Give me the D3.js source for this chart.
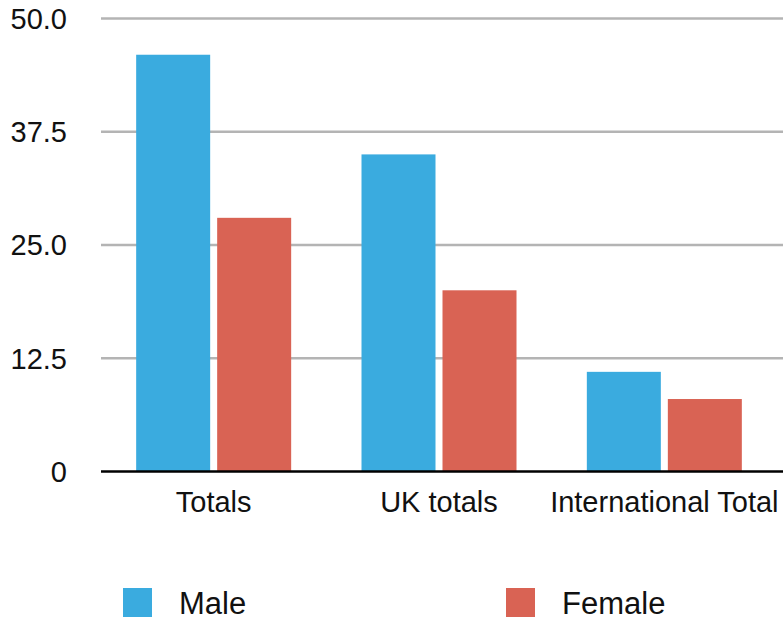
<!DOCTYPE html>
<html>
<head>
<script src="https://d3js.org/d3.v7.min.js"></script>
<style>
  body { margin: 0; background: #fff; }
  svg { font-family: "Liberation Sans", Arial, sans-serif; }
</style>
</head>
<body>
<svg id="chart" width="783" height="620"></svg>
<script>
const categories = ["Totals", "UK totals", "International Total"];
const seriesNames = ["Male", "Female"];
const male = [46, 35, 11];
const female = [28, 20, 8];
const tickValues = [0, 12.5, 25, 37.5, 50];
const tickLabels = ["0", "12.5", "25.0", "37.5", "50.0"];

const colors = { Male: "#3aabdf", Female: "#d96354" };
const values = { Male: male, Female: female };

const svg = d3.select("#chart");
const plotLeft = 101, plotRight = 777, plotTop = 18.5, plotBottom = 471.5;

const x = d3.scaleBand().domain(categories).range([plotLeft, plotRight]);
const y = d3.scaleLinear().domain([0, 50]).range([plotBottom, plotTop]);

// gridlines
svg.append("g").selectAll("line")
  .data(tickValues.filter(d => d > 0))
  .enter().append("line")
  .attr("x1", 101).attr("x2", 783)
  .attr("y1", d => y(d)).attr("y2", d => y(d))
  .attr("stroke", "#b4b4b4").attr("stroke-width", 2.5);

// tick labels
svg.append("g").selectAll("text")
  .data(tickValues)
  .enter().append("text")
  .attr("x", 67).attr("y", d => y(d))
  .attr("dy", "0.36em")
  .attr("text-anchor", "end")
  .attr("font-size", 29)
  .attr("fill", "#111")
  .text((d, i) => tickLabels[i]);

// bars
const barW = 74, gap = 7;
const groups = svg.append("g").selectAll("g")
  .data(categories)
  .enter().append("g");

seriesNames.forEach((s, si) => {
  groups.append("rect")
    .attr("x", (d) => x(d) + x.bandwidth() / 2 + (si === 0 ? -barW - gap / 2 : gap / 2))
    .attr("y", (d, i) => y(values[s][i]))
    .attr("width", barW)
    .attr("height", (d, i) => plotBottom - y(values[s][i]))
    .attr("fill", colors[s]);
});

// baseline
svg.append("line")
  .attr("x1", 101).attr("x2", 783)
  .attr("y1", plotBottom).attr("y2", plotBottom)
  .attr("stroke", "#000").attr("stroke-width", 2.5);

// category labels
svg.append("g").selectAll("text")
  .data(categories)
  .enter().append("text")
  .attr("x", d => x(d) + x.bandwidth() / 2)
  .attr("y", 512)
  .attr("text-anchor", "middle")
  .attr("font-size", 29)
  .attr("fill", "#111")
  .text(d => d);

// legend
const legendX = [123, 506];
const legend = svg.append("g").selectAll("g")
  .data(seriesNames)
  .enter().append("g")
  .attr("transform", (d, i) => `translate(${legendX[i]},588)`);
legend.append("rect")
  .attr("width", 29).attr("height", 29)
  .attr("fill", d => colors[d]);
legend.append("text")
  .attr("x", 56).attr("y", 26)
  .attr("font-size", 31)
  .attr("fill", "#111")
  .text(d => d);
</script>
</body>
</html>
